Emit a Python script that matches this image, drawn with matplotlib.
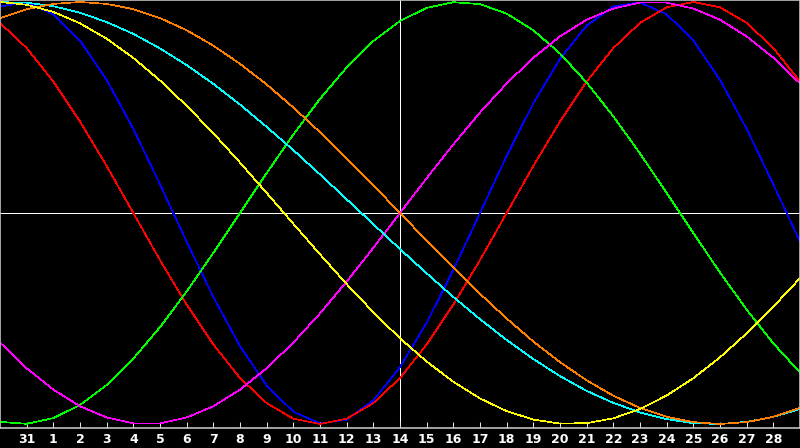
import matplotlib
matplotlib.use("Agg")
import matplotlib.pyplot as plt

# day labels along the bottom (one per day, 30 Jan .. 1 Mar)
days = list(range(31))
day_labels = ["31"] + [str(d) for d in range(1, 29)]
center_day = 15  # the "14" column

# curve values per day (-1 .. 1)
physical = [0.979, 0.998, 0.942, 0.817, 0.631, 0.399, 0.136, -0.136, -0.398, -0.631,
            -0.817, -0.942, -0.998, -0.979, -0.888, -0.731, -0.520, -0.270, 0.000, 0.270,
            0.520, 0.731, 0.888, 0.979, 0.998, 0.942, 0.817, 0.631, 0.399, 0.136, -0.136]
emotional = [0.901, 0.782, 0.623, 0.434, 0.223, 0.0, -0.223, -0.434, -0.623, -0.782,
             -0.901, -0.975, -1.0, -0.975, -0.901, -0.782, -0.623, -0.434, -0.223, 0.0,
             0.223, 0.434, 0.623, 0.782, 0.901, 0.975, 1.0, 0.975, 0.901, 0.782, 0.623]
intellectual = [-0.990, -0.999, -0.972, -0.910, -0.815, -0.690, -0.541, -0.372, -0.189, 0.0,
                0.189, 0.372, 0.541, 0.690, 0.815, 0.910, 0.972, 0.999, 0.990, 0.945,
                0.866, 0.756, 0.618, 0.458, 0.282, 0.095, -0.095, -0.282, -0.458, -0.618, -0.756]
intuitive = [-0.614, -0.736, -0.837, -0.916, -0.969, -0.997, -0.997, -0.969, -0.916, -0.837,
             -0.736, -0.614, -0.476, -0.325, -0.165, 0.0, 0.165, 0.325, 0.476, 0.614,
             0.736, 0.837, 0.916, 0.969, 0.997, 0.997, 0.969, 0.916, 0.837, 0.736, 0.614]
aesthetic = [1.000, 0.987, 0.953, 0.899, 0.826, 0.735, 0.628, 0.508, 0.378, 0.239,
             0.095, -0.051, -0.196, -0.337, -0.470, -0.594, -0.704, -0.800, -0.879, -0.939,
             -0.979, -0.998, -0.996, -0.973, -0.929, -0.865, -0.783, -0.684, -0.570, -0.444, -0.309]
awareness = [0.924, 0.966, 0.991, 1.0, 0.991, 0.966, 0.924, 0.866, 0.793, 0.707,
             0.609, 0.5, 0.383, 0.259, 0.131, 0.0, -0.131, -0.259, -0.383, -0.5,
             -0.609, -0.707, -0.793, -0.866, -0.924, -0.966, -0.991, -1.0, -0.991, -0.966, -0.924]
spiritual = [0.999, 0.997, 0.980, 0.949, 0.905, 0.849, 0.780, 0.701, 0.612, 0.514,
             0.408, 0.298, 0.183, 0.065, -0.053, -0.171, -0.286, -0.398, -0.503, -0.602,
             -0.692, -0.773, -0.843, -0.900, -0.945, -0.977, -0.996, -1.000, -0.990, -0.966, -0.929]

fig = plt.figure(figsize=(8, 4.48), dpi=100, facecolor="black")
ax = fig.add_axes([0, 20 / 448, 1, 428 / 448], facecolor="black")

lw = 0.5
ax.axhline(0, color="white", lw=lw, antialiased=False, zorder=1)
ax.axvline(center_day, color="white", lw=lw, antialiased=False, zorder=1)

ax.plot(days, physical, color="#0000ff", lw=lw, antialiased=False, zorder=2)
ax.plot(days, emotional, color="#ff0000", lw=lw, antialiased=False, zorder=2)
ax.plot(days, intellectual, color="#00ff00", lw=lw, antialiased=False, zorder=2)
ax.plot(days, intuitive, color="#ff00ff", lw=lw, antialiased=False, zorder=2)
ax.plot(days, spiritual, color="#00ffff", lw=lw, antialiased=False, zorder=2)
ax.plot(days, awareness, color="#ff8000", lw=lw, antialiased=False, zorder=2)
ax.plot(days, aesthetic, color="#ffff00", lw=lw, antialiased=False, zorder=2)

ax.set_xlim(0, 30)
ax.set_ylim(-215 / 211, 213 / 211)

ax.set_xticks(days[1:30])
ax.set_xticklabels(day_labels, color="white", fontsize=9, fontweight="bold")
ax.tick_params(axis="x", direction="in", length=4, width=0.75, color="#e0e0e0", pad=3.5)
ax.set_yticks([])

for s in ax.spines.values():
    s.set_color("#c0c0c0")
    s.set_linewidth(1.2)

fig.savefig("out.png", dpi=100, facecolor="black")
